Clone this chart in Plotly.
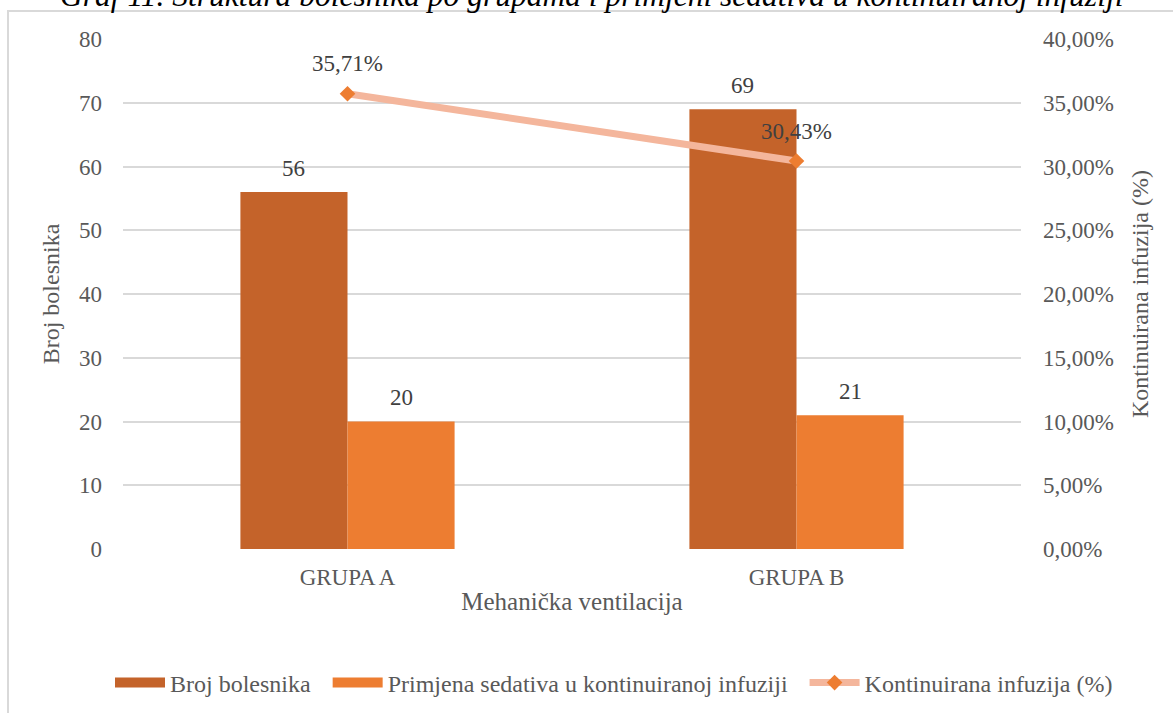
import plotly.graph_objects as go

categories = ["GRUPA A", "GRUPA B"]
broj_bolesnika = [56, 69]
primjena_sedativa = [20, 21]
kontinuirana_pct = [0.3571, 0.3043]

series_names = ["Broj bolesnika", "Primjena sedativa u kontinuiranoj infuziji", "Kontinuirana infuzija (%)"]
bar_colors = ["#C4632A", "#ED7D31"]
title_text = "Graf 11. Struktura bolesnika po grupama i primjeni sedativa u kontinuiranoj infuziji"

FONT = "Liberation Serif"
W, H = 1173, 713
ML, MR, MT, MB = 123, 152, 39, 164
PW, PH = W - ML - MR, H - MT - MB
BARGAP = 0.523
PAD = "\u00a0\u00a0"  # extra spacing between legend entries

fig = go.Figure()
for vals, name, col in ((broj_bolesnika, series_names[0], bar_colors[0]),
                        (primjena_sedativa, series_names[1], bar_colors[1])):
    fig.add_trace(go.Bar(x=categories, y=vals, name=name, showlegend=False,
                         marker=dict(color=col, line=dict(width=0))))
fig.add_trace(go.Scatter(x=categories, y=kontinuirana_pct, name=series_names[2], yaxis="y2",
                         mode="lines+markers", showlegend=False,
                         line=dict(color="#F4B69C", width=7),
                         marker=dict(symbol="diamond", size=12, color="#ED7D31")))
# legend entries (wide rectangular swatches like the original)
for name, col in zip(series_names[:2], bar_colors):
    fig.add_trace(go.Scatter(x=[None], y=[None], name=name + PAD, mode="lines",
                             line=dict(color=col, width=13)))
fig.add_trace(go.Scatter(x=[None], y=[None], name=series_names[2], yaxis="y2",
                         mode="lines+markers", line=dict(color="#F4B69C", width=7),
                         marker=dict(symbol="diamond", size=12, color="#ED7D31")))

annotations = []
bar_w_px = PW / len(categories) * (1 - BARGAP) / 2
for i, c in enumerate(categories):
    for vals, sh in ((broj_bolesnika, -bar_w_px / 2), (primjena_sedativa, bar_w_px / 2)):
        annotations.append(dict(x=c, y=vals[i], xref="x", yref="y", text=str(vals[i]),
                                showarrow=False, xshift=sh, yshift=24,
                                font=dict(family=FONT, size=23, color="#404040")))
    annotations.append(dict(x=c, y=kontinuirana_pct[i], xref="x", yref="y2",
                            text=f"{kontinuirana_pct[i]*100:.2f}%".replace(".", ","),
                            showarrow=False, yshift=30,
                            font=dict(family=FONT, size=23, color="#404040")))


def px_x(p):
    return (p - ML) / PW


def px_y(p):
    return (H - MB - p) / PH


annotations.append(dict(text=f"<i>{title_text}</i>", xref="paper", yref="paper",
                        x=px_x(591), y=px_y(15), xanchor="center", yanchor="bottom",
                        showarrow=False, font=dict(family=FONT, size=31.5, color="#000000")))

fig.update_layout(
    width=W, height=H,
    margin=dict(l=ML, r=MR, t=MT, b=MB, autoexpand=False),
    paper_bgcolor="white", plot_bgcolor="white",
    separators=",.",
    barmode="group", bargap=BARGAP, bargroupgap=0,
    font=dict(family=FONT, color="#595959"),
    showlegend=True,
    legend=dict(orientation="h", xref="paper", yref="paper", x=px_x(1118), y=px_y(683),
                xanchor="right", yanchor="middle", itemwidth=50,
                font=dict(family=FONT, size=24, color="#595959")),
    xaxis=dict(showgrid=False, showline=False, ticks="", zeroline=False, ticklabelstandoff=12,
               tickfont=dict(family=FONT, size=23, color="#595959"),
               title=dict(text="Mehanička ventilacija", standoff=3,
                          font=dict(family=FONT, size=25, color="#595959"))),
    yaxis=dict(range=[0, 80], dtick=10, showgrid=True, gridcolor="#D9D9D9", gridwidth=1.5,
               zeroline=False, showline=False, ticklabelstandoff=20,
               tickfont=dict(family=FONT, size=23, color="#595959"),
               title=dict(text="Broj bolesnika", standoff=12,
                          font=dict(family=FONT, size=24, color="#595959"))),
    yaxis2=dict(range=[0, 0.4], dtick=0.05, tickformat=".2%", overlaying="y", side="right",
                showgrid=False, zeroline=False, showline=False, ticklabelstandoff=21,
                tickfont=dict(family=FONT, size=23, color="#595959"),
                title=dict(text="Kontinuirana infuzija (%)", standoff=18,
                           font=dict(family=FONT, size=24, color="#595959"))),
    annotations=annotations,
    shapes=[dict(type="rect", xref="paper", yref="paper", x0=px_x(8), x1=px_x(1190),
                 y0=px_y(730), y1=px_y(11), line=dict(color="#D9D9D9", width=2),
                 fillcolor="rgba(0,0,0,0)", layer="below")],
)

fig.write_html("out.html", config={"displayModeBar": False},
               post_script="document.body.style.margin='0';")
